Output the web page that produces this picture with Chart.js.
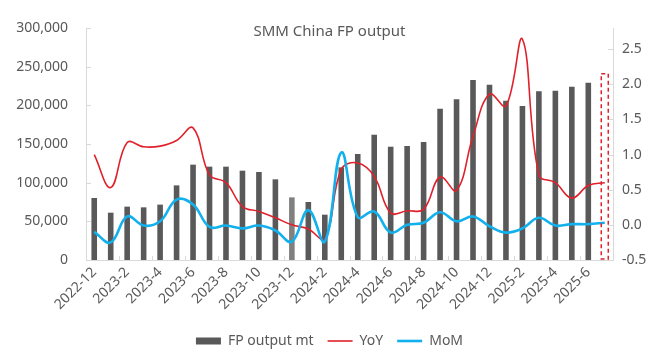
<!DOCTYPE html>
<html>
<head>
<meta charset="utf-8">
<script src="https://cdn.jsdelivr.net/npm/chart.js@4.4.1/dist/chart.umd.min.js"></script>
<style>
  html, body { margin: 0; padding: 0; background: #fff; }
  #wrap { width: 659px; height: 363px; position: relative; }
</style>
</head>
<body>
<div id="wrap"><canvas id="fpChart"></canvas></div>
<script>
// data
const months = ['2022-12', '2023-1', '2023-2', '2023-3', '2023-4', '2023-5', '2023-6', '2023-7',
    '2023-8', '2023-9', '2023-10', '2023-11', '2023-12', '2024-1', '2024-2', '2024-3',
    '2024-4', '2024-5', '2024-6', '2024-7', '2024-8', '2024-9', '2024-10', '2024-11',
    '2024-12', '2025-1', '2025-2', '2025-3', '2025-4', '2025-5', '2025-6', '2025-7'];
const fpOutput = [80200, 61200, 69000, 68100, 71600, 96500, 123300, 120700,
    120700, 115500, 113800, 104300, 81000, 75000, 58600, 119800,
    137100, 162000, 146500, 147400, 152600, 195700, 207800, 232800,
    226700, 206000, 199100, 218100, 218900, 224100, 229300, null];
const yoy = [1.0, 0.53, 1.17, 1.11, 1.12, 1.2, 1.38, 0.71,
    0.6, 0.26, 0.19, 0.1, 0.0, -0.06, -0.2, 0.79,
    0.88, 0.69, 0.17, 0.2, 0.22, 0.68, 0.49, 1.26,
    1.86, 1.69, 2.64, 0.71, 0.6, 0.38, 0.56, 0.6];
const mom = [-0.1, -0.25, 0.12, -0.01, 0.05, 0.36, 0.29, -0.03,
    -0.01, -0.05, -0.01, -0.08, -0.24, 0.21, -0.24, 1.03,
    0.11, 0.19, -0.11, 0.0, 0.03, 0.18, 0.05, 0.12,
    -0.02, -0.11, -0.05, 0.1, -0.01, 0.01, 0.01, 0.03];
const leftTicks = [0, 50000, 100000, 150000, 200000, 250000, 300000];
const rightTicks = [-0.5, 0, 0.5, 1, 1.5, 2, 2.5];

const FONT = '"Noto Sans", "Liberation Sans", sans-serif';
const TXT = '#595959';
const AXIS = '#d9d9d9';

// title, inner tick marks, dashed box on the last month
const decor = {
    id: 'decor',
    afterDraw(chart) {
        const {ctx, chartArea: a, scales: {x, y, y1}} = chart;
        ctx.save();
        ctx.strokeStyle = AXIS;
        ctx.lineWidth = 1;
        ctx.beginPath();
        y.ticks.forEach(t => {
            const py = Math.round(y.getPixelForValue(t.value)) + 0.5;
            ctx.moveTo(a.left, py);
            ctx.lineTo(a.left + 5, py);
        });
        y1.ticks.forEach(t => {
            const py = Math.round(y1.getPixelForValue(t.value)) + 0.5;
            ctx.moveTo(a.right - 5, py);
            ctx.lineTo(a.right, py);
        });
        for (let i = 2; i < months.length; i += 2) {
            const px = Math.round((x.getPixelForValue(i - 1) + x.getPixelForValue(i)) / 2) + 0.5;
            ctx.moveTo(px, a.bottom);
            ctx.lineTo(px, a.bottom - 4);
        }
        ctx.stroke();

        // highlight box
        const last = months.length - 1;
        const cx = x.getPixelForValue(last);
        const top = y1.getPixelForValue(2.15);
        ctx.strokeStyle = '#e0212b';
        ctx.lineWidth = 1.5;
        ctx.setLineDash([4, 3]);
        ctx.strokeRect(cx - 3.5, top, 7, a.bottom - top - 1);
        ctx.setLineDash([]);

        ctx.fillStyle = TXT;
        ctx.font = '15px ' + FONT;
        ctx.textAlign = 'center';
        ctx.textBaseline = 'middle';
        ctx.fillText('SMM China FP output', chart.width / 2, 32);
        ctx.restore();
    }
};

const ctx = document.getElementById('fpChart');
new Chart(ctx, {
    type: 'bar',
    data: {
        labels: months,
        datasets: [{
                label: 'FP output mt',
                data: fpOutput,
                yAxisID: 'y',
                order: 3,
                backgroundColor: c => c.dataIndex === 12 ? '#808080' : '#595959',
                borderWidth: 0,
                barPercentage: 0.34,
                categoryPercentage: 1,
                pointStyle: 'rect'
            }, {
                type: 'line',
                label: 'YoY',
                data: yoy,
                yAxisID: 'y1',
                order: 2,
                borderColor: '#e0212b',
                backgroundColor: '#e0212b',
                borderWidth: 1.6,
                pointRadius: 0,
                tension: 0.4,
                pointStyle: 'line'
            }, {
                type: 'line',
                label: 'MoM',
                data: mom,
                yAxisID: 'y1',
                order: 1,
                borderColor: '#12b0ec',
                backgroundColor: '#12b0ec',
                borderWidth: 2.6,
                pointRadius: 0,
                tension: 0.4,
                pointStyle: 'line'
            }]
    },
    options: {
        responsive: true,
        maintainAspectRatio: false,
        animation: false,
        layout: {padding: {top: 28, bottom: 5, left: 0, right: 0}},
        scales: {
            x: {
                offset: true,
                grid: {display: false, drawTicks: false},
                border: {color: AXIS},
                ticks: {
                    autoSkip: false,
                    maxRotation: 45,
                    minRotation: 45,
                    padding: 4,
                    color: TXT,
                    font: {size: 14, family: FONT},
                    callback: (v, i) => i % 2 === 0 ? months[i] : ''
                },
                afterFit: s => { s.height = 363 - 260 - 5 - s.chart.legend.height; }
            },
            y: {
                position: 'left',
                min: 0,
                max: 300000,
                grid: {display: false, drawTicks: false},
                border: {color: AXIS},
                afterBuildTicks: s => { s.ticks = leftTicks.map(v => ({value: v})); },
                ticks: {
                    padding: 18,
                    color: TXT,
                    font: {size: 14, family: FONT},
                    callback: v => v.toLocaleString('en-US')
                },
                afterFit: s => { s.width = 86; }
            },
            y1: {
                position: 'right',
                min: -0.5,
                max: 2.8,
                grid: {display: false, drawTicks: false},
                border: {color: AXIS},
                afterBuildTicks: s => { s.ticks = rightTicks.map(v => ({value: v})); },
                ticks: {
                    padding: 9,
                    color: TXT,
                    font: {size: 14, family: FONT},
                    callback: v => v.toFixed(1)
                },
                afterFit: s => { s.width = 46; }
            }
        },
        plugins: {
            legend: {
                position: 'bottom',
                labels: {
                    usePointStyle: true,
                    pointStyleWidth: 25,
                    boxHeight: 7,
                    padding: 14,
                    color: TXT,
                    font: {size: 14, family: FONT},
                    sort: (a, b) => a.datasetIndex - b.datasetIndex
                }
            },
            tooltip: {enabled: false}
        }
    },
    plugins: [decor]
});
</script>
</body>
</html>
